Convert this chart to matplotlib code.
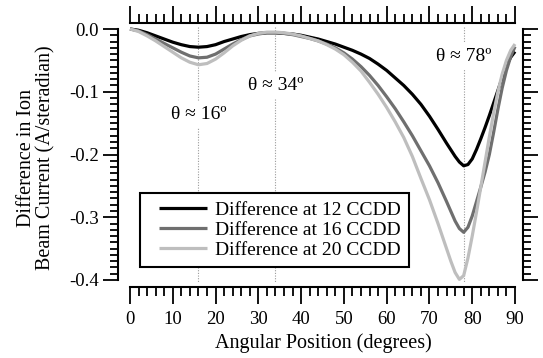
import numpy as np
import matplotlib
matplotlib.use("Agg")
import matplotlib.pyplot as plt
from matplotlib.ticker import FixedLocator, FormatStrFormatter
from matplotlib.legend_handler import HandlerLine2D
from matplotlib.lines import Line2D

# ---- data -------------------------------------------------------------
angle_12 = [0, 2, 4, 6, 8, 10, 12, 14, 16, 18, 20, 22, 24, 26, 28, 30, 32, 34,
            36, 38, 40, 42, 44, 46, 48, 50, 52, 54, 56, 58, 60, 62, 64, 66, 68,
            70, 72, 74, 76, 77, 78, 79, 80, 81, 82, 83, 84, 85, 86, 87, 88, 89, 90]
diff_12 = [0.000, -0.002, -0.006, -0.011, -0.016, -0.021, -0.025, -0.028, -0.029,
           -0.028, -0.025, -0.020, -0.016, -0.012, -0.009, -0.007, -0.006, -0.006,
           -0.007, -0.008, -0.010, -0.013, -0.016, -0.020, -0.024, -0.029, -0.034,
           -0.040, -0.047, -0.056, -0.066, -0.078, -0.090, -0.104, -0.120,
           -0.139, -0.160, -0.182, -0.203, -0.212, -0.218, -0.216, -0.207, -0.192,
           -0.175, -0.157, -0.138, -0.118, -0.098, -0.078, -0.058, -0.045, -0.036]

angle_16 = [0, 2, 4, 6, 8, 10, 12, 14, 16, 18, 20, 22, 24, 26, 28, 30, 32, 34,
            36, 38, 40, 42, 44, 46, 48, 50, 52, 54, 56, 58, 60, 62, 64, 66, 68,
            70, 72, 74, 76, 77, 78, 79, 80, 81, 82, 83, 84, 85, 86, 87, 88, 89, 90]
diff_16 = [0.000, -0.003, -0.009, -0.016, -0.023, -0.030, -0.037, -0.043, -0.046,
           -0.045, -0.040, -0.032, -0.024, -0.017, -0.011, -0.008, -0.006, -0.006,
           -0.007, -0.009, -0.012, -0.015, -0.019, -0.024, -0.030, -0.038, -0.048,
           -0.060, -0.074, -0.090, -0.108, -0.127, -0.148, -0.170, -0.194,
           -0.218, -0.245, -0.275, -0.306, -0.318, -0.324, -0.316, -0.298, -0.275,
           -0.252, -0.228, -0.200, -0.165, -0.128, -0.094, -0.066, -0.044, -0.028]

angle_20 = [0, 2, 4, 6, 8, 10, 12, 14, 16, 18, 20, 22, 24, 26, 28, 30, 32, 34,
            36, 38, 40, 42, 44, 46, 48, 50, 52, 54, 56, 58, 60, 62, 64, 66, 68,
            70, 72, 74, 75, 76, 77, 78, 79, 80, 81, 82, 83, 84, 85, 86, 87, 88, 89, 90]
diff_20 = [0.000, -0.004, -0.011, -0.019, -0.028, -0.037, -0.046, -0.053, -0.057,
           -0.055, -0.048, -0.038, -0.027, -0.018, -0.011, -0.007, -0.005, -0.005,
           -0.006, -0.008, -0.011, -0.015, -0.019, -0.025, -0.032, -0.041, -0.053,
           -0.067, -0.085, -0.104, -0.125, -0.148, -0.173, -0.203, -0.238,
           -0.272, -0.310, -0.350, -0.370, -0.388, -0.399, -0.393, -0.365, -0.330,
           -0.292, -0.252, -0.212, -0.172, -0.134, -0.100, -0.072, -0.050, -0.034, -0.024]

series_labels = ["Difference at 12 CCDD", "Difference at 16 CCDD", "Difference at 20 CCDD"]
series_colors = ["#000000", "#6f6f6f", "#bebebe"]

marker_angles = [16, 34, 78]
marker_labels = ["θ ≈ 16º", "θ ≈ 34º", "θ ≈ 78º"]
marker_label_y = [-0.137, -0.090, -0.044]

x_major = [0, 10, 20, 30, 40, 50, 60, 70, 80, 90]
y_major = [-0.4, -0.3, -0.2, -0.1, 0.0]

# ---- style ------------------------------------------------------------
plt.rcParams["font.family"] = ["Liberation Serif", "DejaVu Serif"]
plt.rcParams["axes.unicode_minus"] = False

W, H, DPI = 543, 358, 100
fig = plt.figure(figsize=(W / DPI, H / DPI), dpi=DPI)

# plot rectangle in pixels: left, right, top, bottom
L, R, T, B = 118, 523, 23, 287
ax = fig.add_axes([L / W, 1 - B / H, (R - L) / W, (B - T) / H])

xs = 385 / 90.0          # pixels per degree
ys = 251 / 0.4           # pixels per unit
ax.set_xlim((L - 130) / xs, (R - 130) / xs)
ax.set_ylim(-(B - 29) / ys, (29 - T) / ys)

# reference angle guides
for ang, txt, ty in zip(marker_angles, marker_labels, marker_label_y):
    ax.plot([ang, ang], [0.003, -0.404], color="#9a9a9a", lw=0.8,
            linestyle=(0, (1, 1.4)), zorder=1)
    ax.text(ang, ty, txt, ha="center", va="center", fontsize=14, zorder=2,
            bbox=dict(fc="white", ec="none", pad=3.5))

lines = []
for a, d, lab, c in zip([angle_12, angle_16, angle_20], [diff_12, diff_16, diff_20],
                        series_labels, series_colors):
    ln, = ax.plot(a, d, color=c, lw=2.3, label=lab, zorder=3,
                  solid_capstyle="butt", solid_joinstyle="round")
    lines.append(ln)

# detached Igor-style axes
for side in ("left", "right"):
    ax.spines[side].set_bounds(-0.4, 0.0)
for side in ("top", "bottom"):
    ax.spines[side].set_bounds(0, 90)
for sp in ax.spines.values():
    sp.set_linewidth(1.5)

ax.xaxis.set_major_locator(FixedLocator(x_major))
ax.xaxis.set_minor_locator(FixedLocator([v for v in range(0, 91, 2) if v % 10]))
ax.yaxis.set_major_locator(FixedLocator(y_major))
ax.yaxis.set_minor_locator(FixedLocator([round(-0.4 + 0.01 * i, 2) for i in range(41)
                                         if i % 10]))
ax.yaxis.set_major_formatter(FormatStrFormatter("%.1f"))

ax.tick_params(axis="both", which="both", direction="out", top=True, right=True,
               labeltop=False, labelright=False, width=1.3, labelsize=13.5)
ax.tick_params(axis="x", which="major", length=12, pad=5)
ax.tick_params(axis="x", which="minor", length=6.5)
ax.tick_params(axis="y", which="major", length=10.5, pad=3.5)
ax.tick_params(axis="y", which="minor", length=5.5)


class InsetLine(HandlerLine2D):
    """Legend line sample that starts a little in from the box edge."""
    def create_artists(self, legend, orig_handle, xdescent, ydescent, width,
                       height, fontsize, trans):
        inset = 0.19 * width
        return super().create_artists(legend, orig_handle, xdescent - inset,
                                      ydescent, width - inset, height,
                                      fontsize, trans)


leg = ax.legend(handles=lines, loc="lower left",
                bbox_to_anchor=((140 - L) / (R - L), (B - 267) / (B - T)),
                borderaxespad=0, fontsize=14, frameon=True, fancybox=False,
                edgecolor="black", framealpha=1, borderpad=0.42,
                handlelength=3.0, handletextpad=0.46, labelspacing=0.12,
                handler_map={Line2D: InsetLine()})
leg.get_frame().set_linewidth(1.5)
leg.set_zorder(5)

fig.text(323 / W, 1 - 348 / H, "Angular Position (degrees)", ha="center",
         va="baseline", fontsize=14.5)
fig.text(36 / W, 1 - 158 / H, "Difference in Ion\nBeam Current (A/steradian)",
         ha="center", va="center", rotation=90, fontsize=14.5,
         multialignment="center", linespacing=1.05)

fig.savefig("out.png", dpi=DPI)
